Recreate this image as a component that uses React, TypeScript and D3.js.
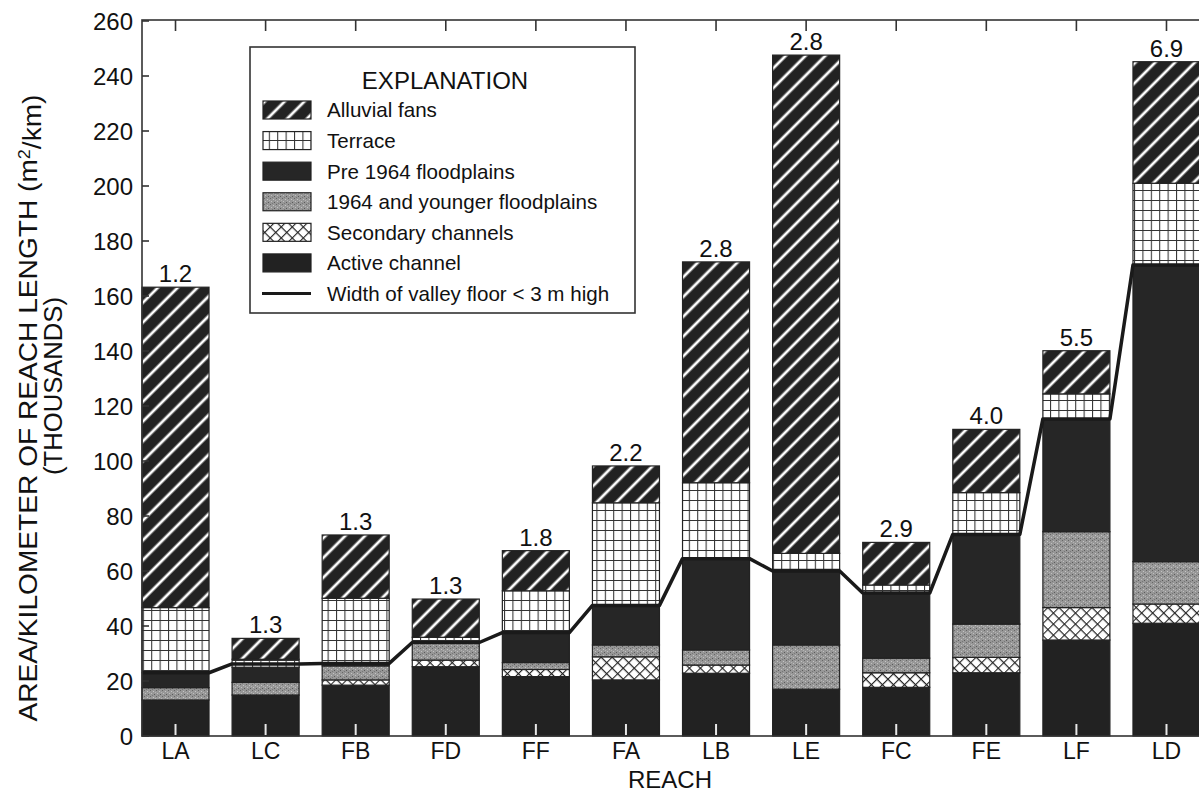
import React, { useRef, useEffect } from "react";
import * as d3 from "d3";

// reaches, left to right
const categories = ["LA", "LC", "FB", "FD", "FF", "FA", "LB", "LE", "FC", "FE", "LF", "LD"];
// area per km of reach length, thousands of m2/km (bottom to top of each bar)
const activeChannel = [13.1, 14.9, 18.5, 25.2, 21.6, 20.4, 22.8, 17.0, 17.7, 23.0, 34.9, 41.0];
const secondaryChannels = [0, 0, 1.9, 2.4, 2.6, 8.4, 3.0, 0, 5.3, 5.6, 11.8, 7.0];
const youngFloodplains = [4.5, 4.6, 5.1, 6.1, 2.5, 4.3, 5.5, 16.1, 5.3, 12.1, 27.6, 15.4];
const pre1964Floodplains = [5.4, 5.5, 1.2, 0, 10.9, 14.5, 33.3, 27.5, 23.6, 32.6, 41.0, 107.9];
const terrace = [23.7, 2.9, 23.4, 2.2, 15.2, 37.2, 27.5, 5.8, 3.0, 15.2, 9.1, 29.7];
const alluvialFans = [116.5, 7.6, 23.0, 13.9, 14.6, 13.4, 80.3, 181.2, 15.5, 23.0, 15.7, 44.2];
// width of valley floor < 3 m high
const valleyWidth = [23.0, 26.2, 26.4, 34.0, 37.6, 47.5, 64.5, 60.0, 52.0, 73.3, 115.3, 171.3];
// numbers printed above the bars
const barLabels = ["1.2", "1.3", "1.3", "1.3", "1.8", "2.2", "2.8", "2.8", "2.9", "4.0", "5.5", "6.9"];
const yTicks = [0, 20, 40, 60, 80, 100, 120, 140, 160, 180, 200, 220, 240, 260];

const legendItems = [
  { key: "fans", label: "Alluvial fans" },
  { key: "terrace", label: "Terrace" },
  { key: "pre", label: "Pre 1964 floodplains" },
  { key: "young", label: "1964 and younger floodplains" },
  { key: "secondary", label: "Secondary channels" },
  { key: "active", label: "Active channel" },
  { key: "line", label: "Width of valley floor < 3 m high" },
];

const FONT = "'Liberation Sans', Arial, Helvetica, sans-serif";
const INK = "#222";

const App = () => {
  const canvas = useRef<SVGSVGElement>(null);

  const width = 1199;
  const height = 798;
  const plot = { left: 142, right: 1200, top: 21, bottom: 736 };

  const drawChart = () => {
    const svg = d3.select(canvas.current);
    svg.selectAll("*").remove();

    const fills: { [k: string]: string } = {
      active: INK,
      secondary: "url(#xhatch)",
      young: "url(#stipple)",
      pre: "#262626",
      terrace: "url(#grid)",
      fans: "url(#diag)",
    };

    // patterns
    const defs = svg.append("defs");
    const dp = 14;
    const diag = defs.append("pattern").attr("id", "diag")
      .attr("patternUnits", "userSpaceOnUse").attr("width", dp).attr("height", dp)
      .attr("patternTransform", "rotate(45)");
    diag.append("rect").attr("width", dp).attr("height", dp).attr("fill", INK);
    diag.append("line").attr("x1", 7).attr("x2", 7).attr("y1", 0).attr("y2", dp)
      .attr("stroke", "#fff").attr("stroke-width", 2.8);

    const grid = defs.append("pattern").attr("id", "grid")
      .attr("patternUnits", "userSpaceOnUse").attr("width", 8.4).attr("height", 10);
    grid.append("rect").attr("width", 8.4).attr("height", 10).attr("fill", "#fff");
    grid.append("path").attr("d", "M0.5,0V10M0,0.5H8.4")
      .attr("stroke", "#333").attr("stroke-width", 1.1).attr("fill", "none");

    const xh = defs.append("pattern").attr("id", "xhatch")
      .attr("patternUnits", "userSpaceOnUse").attr("width", 7.8).attr("height", 7.8)
      .attr("patternTransform", "rotate(45)");
    xh.append("rect").attr("width", 7.8).attr("height", 7.8).attr("fill", "#fff");
    xh.append("path").attr("d", "M0,0V7.8M0,0H7.8")
      .attr("stroke", INK).attr("stroke-width", 2.2).attr("fill", "none");

    const st = defs.append("pattern").attr("id", "stipple")
      .attr("patternUnits", "userSpaceOnUse").attr("width", 6).attr("height", 6);
    st.append("rect").attr("width", 6).attr("height", 6).attr("fill", "#979797");
    [[0, 0, "#666"], [3, 1, "#c4c4c4"], [1, 3, "#c0c0c0"], [4, 4, "#5a5a5a"], [2, 5, "#777"], [5, 2, "#b4b4b4"]]
      .forEach(([px, py, c]) => {
        st.append("rect").attr("x", px as number).attr("y", py as number)
          .attr("width", 1).attr("height", 1).attr("fill", c as string);
      });

    // scales
    const x = d3.scaleBand<string>()
      .domain(categories)
      .range([plot.left, plot.right])
      .paddingInner(0.256)
      .paddingOuter(0);
    const y = d3.scaleLinear().domain([0, 260]).range([plot.bottom, plot.top]);

    const rows = categories.map((c, i) => ({
      cat: c,
      active: activeChannel[i],
      secondary: secondaryChannels[i],
      young: youngFloodplains[i],
      pre: pre1964Floodplains[i],
      terrace: terrace[i],
      fans: alluvialFans[i],
    }));
    const keys = ["active", "secondary", "young", "pre", "terrace", "fans"];
    const series = d3.stack<any>().keys(keys)(rows);

    const g = svg.append("g");

    g.selectAll("g.layer")
      .data(series)
      .enter()
      .append("g")
      .attr("class", "layer")
      .attr("fill", (d: any) => fills[d.key])
      .selectAll("rect")
      .data((d: any) => d.filter((s: any) => s[1] - s[0] > 0))
      .enter()
      .append("rect")
      .attr("x", (d: any) => x(d.data.cat) as number)
      .attr("y", (d: any) => y(d[1]))
      .attr("width", x.bandwidth())
      .attr("height", (d: any) => y(d[0]) - y(d[1]))
      .attr("stroke", INK)
      .attr("stroke-width", 1.2);

    // labels above the bars
    g.selectAll("text.barlabel")
      .data(categories)
      .enter()
      .append("text")
      .attr("class", "barlabel")
      .attr("x", (d) => (x(d) as number) + x.bandwidth() / 2)
      .attr("y", (_d, i) => y(series[series.length - 1][i][1]) - 5)
      .attr("text-anchor", "middle")
      .style("font-family", FONT)
      .style("font-size", "24px")
      .attr("fill", "#111")
      .text((_d, i) => barLabels[i]);

    // valley floor width line
    const pts: [number, number][] = [];
    categories.forEach((c, i) => {
      pts.push([x(c) as number, y(valleyWidth[i])]);
      pts.push([(x(c) as number) + x.bandwidth(), y(valleyWidth[i])]);
    });
    g.append("path")
      .attr("d", d3.line()(pts) as string)
      .attr("fill", "none")
      .attr("stroke", "#1a1a1a")
      .attr("stroke-width", 3.5)
      .attr("stroke-linejoin", "round");

    // frame
    g.append("rect")
      .attr("x", plot.left).attr("y", plot.top - 1)
      .attr("width", plot.right - plot.left).attr("height", plot.bottom - plot.top + 1)
      .attr("fill", "none").attr("stroke", "#333").attr("stroke-width", 1.6);

    // y ticks (inward) and labels
    yTicks.forEach((t) => {
      g.append("line")
        .attr("x1", plot.left).attr("x2", plot.left + 7)
        .attr("y1", y(t)).attr("y2", y(t))
        .attr("stroke", "#333").attr("stroke-width", 1.6);
      g.append("text")
        .attr("x", 133).attr("y", y(t))
        .attr("dy", "0.36em")
        .attr("text-anchor", "end")
        .style("font-family", FONT)
        .style("font-size", "24px")
        .attr("fill", "#111")
        .text(t);
    });

    // x ticks: top inward, bottom as light marks inside the bars
    categories.forEach((c) => {
      const cx = (x(c) as number) + x.bandwidth() / 2;
      g.append("line")
        .attr("x1", cx).attr("x2", cx).attr("y1", plot.top - 1).attr("y2", plot.top + 10)
        .attr("stroke", "#333").attr("stroke-width", 1.6);
      g.append("line")
        .attr("x1", cx).attr("x2", cx).attr("y1", plot.bottom - 12).attr("y2", plot.bottom - 1)
        .attr("stroke", "#e8e8e8").attr("stroke-width", 2);
      g.append("text")
        .attr("x", cx).attr("y", 751)
        .attr("dy", "0.36em")
        .attr("text-anchor", "middle")
        .style("font-family", FONT)
        .style("font-size", "23px")
        .attr("fill", "#111")
        .text(c);
    });

    // axis titles
    g.append("text")
      .attr("x", 670).attr("y", 779).attr("dy", "0.36em")
      .attr("text-anchor", "middle")
      .style("font-family", FONT).style("font-size", "24px").attr("fill", "#111")
      .text("REACH");

    const yt = g.append("text")
      .attr("transform", "translate(28,408) rotate(-90)")
      .attr("dy", "0.36em")
      .attr("text-anchor", "middle")
      .attr("textLength", 627)
      .attr("lengthAdjust", "spacingAndGlyphs")
      .style("font-family", FONT).style("font-size", "25px").attr("fill", "#111");
    yt.append("tspan").text("AREA/KILOMETER OF REACH LENGTH (m");
    yt.append("tspan").attr("dy", "-0.45em").style("font-size", "16px").text("2");
    yt.append("tspan").attr("dy", "0.45em").text("/km)");

    g.append("text")
      .attr("transform", "translate(53,386) rotate(-90)")
      .attr("dy", "0.36em")
      .attr("text-anchor", "middle")
      .attr("textLength", 178)
      .attr("lengthAdjust", "spacingAndGlyphs")
      .style("font-family", FONT).style("font-size", "25px").attr("fill", "#111")
      .text("(THOUSANDS)");

    // legend
    const lg = g.append("g");
    lg.append("rect")
      .attr("x", 250).attr("y", 47).attr("width", 385).attr("height", 266)
      .attr("fill", "#fff").attr("stroke", "#333").attr("stroke-width", 1.6);
    lg.append("text")
      .attr("x", 445).attr("y", 80).attr("dy", "0.36em")
      .attr("text-anchor", "middle")
      .style("font-family", FONT).style("font-size", "24px").attr("fill", "#111")
      .text("EXPLANATION");
    const rowY = d3.scaleLinear().domain([0, legendItems.length - 1]).range([110, 293.5]);
    legendItems.forEach((it, i) => {
      const cy = rowY(i);
      if (it.key === "line") {
        lg.append("line")
          .attr("x1", 262).attr("x2", 311).attr("y1", cy).attr("y2", cy)
          .attr("stroke", "#1a1a1a").attr("stroke-width", 3.2);
      } else {
        lg.append("rect")
          .attr("x", 263).attr("y", cy - 9).attr("width", 48).attr("height", 18)
          .attr("fill", fills[it.key]).attr("stroke", INK).attr("stroke-width", 1.2);
      }
      lg.append("text")
        .attr("x", 327).attr("y", cy).attr("dy", "0.36em")
        .style("font-family", FONT).style("font-size", "20.6px").attr("fill", "#111")
        .text(it.label);
    });
  };

  useEffect(() => {
    drawChart();
  });

  return (
    <svg
      ref={canvas}
      width={width}
      height={height}
      style={{ position: "absolute", left: 0, top: 0, background: "#fff" }}
    />
  );
};

export default App;
